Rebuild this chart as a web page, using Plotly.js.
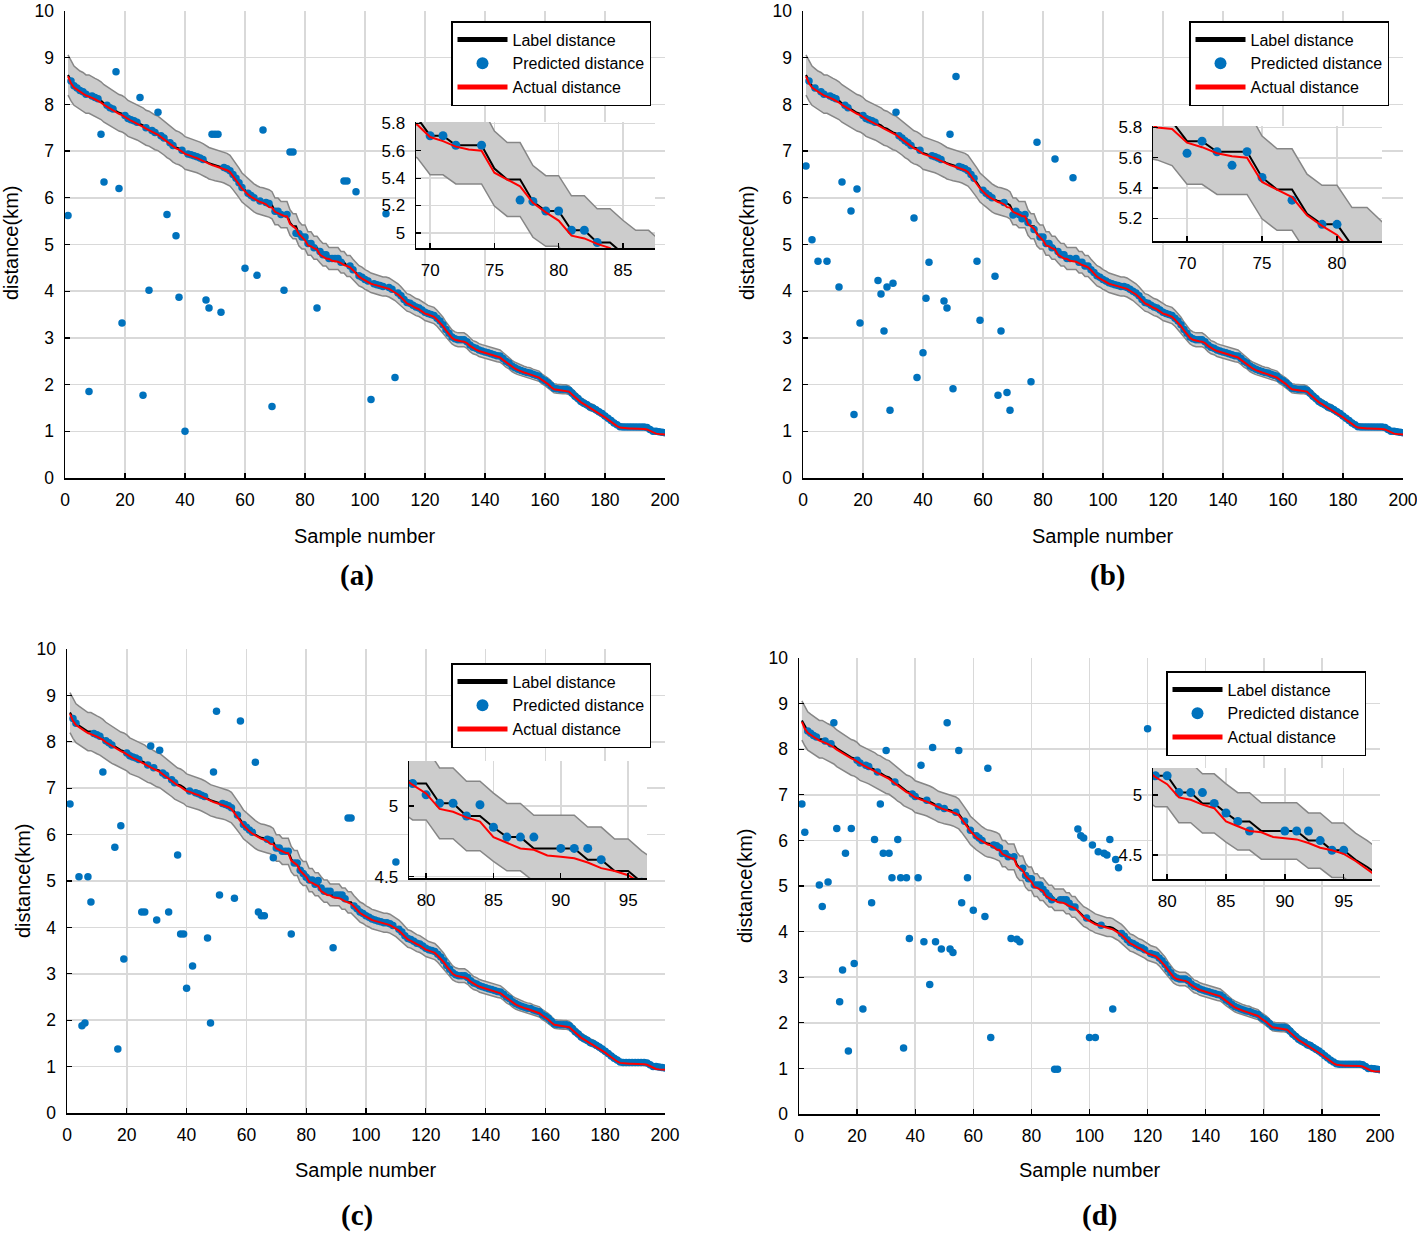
<!DOCTYPE html>
<html>
<head>
<meta charset="utf-8">
<script src="https://cdn.plot.ly/plotly-3.0.1.min.js"></script>
<style>
  html, body { margin: 0; padding: 0; background: #fff; }
  #chart { width: 1417px; height: 1235px; }
</style>
</head>
<body>
<div id="chart"></div>
<script>
// sample numbers of the 200 test points
const sampleNo = Array.from({ length: 200 }, (_, i) => i + 1);

// label distance (km), sorted test set, shared by all four panels
const labelDist = [
  8.63, 8.50, 8.40, 8.35, 8.30, 8.27, 8.22, 8.22, 8.18, 8.15,
  8.12, 8.08, 8.02, 7.98, 7.93, 7.90, 7.86, 7.82, 7.80, 7.76,
  7.70, 7.67, 7.65, 7.62, 7.58, 7.55, 7.50, 7.48, 7.44, 7.40,
  7.38, 7.33, 7.28, 7.22, 7.18, 7.12, 7.08, 7.06, 7.02, 6.96,
  6.94, 6.92, 6.90, 6.88, 6.85, 6.82, 6.78, 6.74, 6.72, 6.70,
  6.68, 6.67, 6.65, 6.62, 6.58, 6.50, 6.42, 6.32, 6.22, 6.16,
  6.10, 6.05, 6.00, 5.96, 5.93, 5.92, 5.90, 5.88, 5.84, 5.71,
  5.71, 5.64, 5.64, 5.64, 5.47, 5.39, 5.39, 5.23, 5.16, 5.16,
  5.02, 5.02, 4.93, 4.93, 4.85, 4.78, 4.78, 4.70, 4.70, 4.70,
  4.70, 4.62, 4.62, 4.54, 4.54, 4.46, 4.40, 4.33, 4.30, 4.25,
  4.22, 4.18, 4.16, 4.14, 4.12, 4.10, 4.10, 4.08, 4.04, 4.00,
  3.96, 3.90, 3.82, 3.76, 3.74, 3.70, 3.66, 3.64, 3.60, 3.55,
  3.52, 3.50, 3.48, 3.42, 3.36, 3.28, 3.18, 3.10, 3.02, 2.98,
  2.96, 2.96, 2.96, 2.92, 2.85, 2.80, 2.78, 2.74, 2.72, 2.70,
  2.68, 2.66, 2.64, 2.62, 2.61, 2.56, 2.50, 2.46, 2.40, 2.36,
  2.33, 2.30, 2.28, 2.26, 2.25, 2.22, 2.20, 2.18, 2.12, 2.08,
  2.04, 1.98, 1.92, 1.91, 1.90, 1.90, 1.90, 1.88, 1.82, 1.75,
  1.70, 1.64, 1.60, 1.57, 1.52, 1.50, 1.46, 1.42, 1.38, 1.33,
  1.28, 1.23, 1.18, 1.14, 1.10, 1.09, 1.09, 1.09, 1.09, 1.09,
  1.09, 1.09, 1.09, 1.08, 1.04, 1.00, 1.00, 0.99, 0.98, 0.97
];

// actual distance (km)
const actualDist = [
  8.60, 8.45, 8.36, 8.31, 8.26, 8.23, 8.19, 8.17, 8.14, 8.11,
  8.08, 8.04, 7.99, 7.95, 7.91, 7.87, 7.83, 7.80, 7.77, 7.73,
  7.68, 7.65, 7.62, 7.59, 7.56, 7.52, 7.48, 7.45, 7.41, 7.38,
  7.35, 7.30, 7.25, 7.20, 7.15, 7.10, 7.06, 7.03, 6.99, 6.94,
  6.92, 6.89, 6.87, 6.85, 6.82, 6.79, 6.75, 6.72, 6.70, 6.68,
  6.66, 6.64, 6.62, 6.59, 6.55, 6.47, 6.39, 6.29, 6.20, 6.13,
  6.07, 6.02, 5.98, 5.94, 5.91, 5.89, 5.86, 5.80, 5.79, 5.70,
  5.67, 5.63, 5.61, 5.60, 5.44, 5.39, 5.34, 5.22, 5.15, 5.09,
  4.98, 4.96, 4.92, 4.89, 4.78, 4.74, 4.70, 4.69, 4.65, 4.64,
  4.63, 4.60, 4.56, 4.54, 4.51, 4.45, 4.38, 4.31, 4.27, 4.23,
  4.20, 4.16, 4.14, 4.12, 4.10, 4.08, 4.07, 4.05, 4.01, 3.97,
  3.93, 3.87, 3.80, 3.74, 3.71, 3.67, 3.64, 3.61, 3.57, 3.52,
  3.50, 3.48, 3.45, 3.39, 3.33, 3.25, 3.16, 3.08, 3.00, 2.96,
  2.94, 2.93, 2.92, 2.89, 2.83, 2.78, 2.75, 2.72, 2.70, 2.68,
  2.66, 2.64, 2.62, 2.60, 2.58, 2.53, 2.48, 2.43, 2.38, 2.34,
  2.31, 2.28, 2.26, 2.24, 2.22, 2.20, 2.18, 2.15, 2.10, 2.06,
  2.01, 1.95, 1.90, 1.89, 1.88, 1.87, 1.87, 1.85, 1.79, 1.73,
  1.67, 1.62, 1.58, 1.54, 1.50, 1.47, 1.43, 1.39, 1.35, 1.30,
  1.25, 1.20, 1.15, 1.11, 1.08, 1.07, 1.07, 1.06, 1.06, 1.06,
  1.06, 1.05, 1.05, 1.04, 1.01, 0.97, 0.95, 0.94, 0.93, 0.93
];

// relative tolerance of the grey band around the label distance
const tolerance = 0.05;

// predicted distance: samples where the prediction differs from the label
const predA_x = [1, 8, 12, 13, 17, 18, 19, 25, 26, 28, 31, 34, 37, 38, 40, 47, 48, 49, 50, 51, 52, 60, 64, 66, 69, 73, 75, 76, 77, 84, 93, 94, 97, 102, 107, 110];
const predA_y = [5.62, 1.85, 7.36, 6.34, 8.70, 6.20, 3.32, 8.15, 1.77, 4.02, 7.83, 5.64, 5.19, 3.87, 1.00, 3.81, 3.64, 7.36, 7.36, 7.36, 3.55, 4.49, 4.34, 7.45, 1.53, 4.02, 6.98, 6.98, 5.24, 3.64, 6.36, 6.36, 6.13, 1.68, 5.66, 2.15];

const predB_x = [1, 3, 5, 8, 12, 13, 16, 17, 18, 19, 25, 26, 27, 28, 29, 30, 31, 37, 38, 40, 41, 42, 47, 48, 49, 50, 51, 58, 59, 64, 65, 66, 68, 69, 70, 73, 76, 77, 78, 84, 90];
const predB_y = [6.68, 5.10, 4.64, 4.64, 4.09, 6.34, 5.72, 1.36, 6.19, 3.32, 4.23, 3.94, 3.15, 4.09, 1.45, 4.17, 7.83, 5.57, 2.15, 2.68, 3.85, 4.62, 3.79, 3.64, 7.36, 1.91, 8.60, 4.64, 3.38, 4.32, 1.77, 3.15, 1.83, 1.45, 5.63, 5.55, 2.06, 5.32, 7.19, 6.83, 6.43];

const predC_x = [1, 4, 5, 6, 7, 8, 12, 16, 17, 18, 19, 25, 26, 28, 30, 31, 34, 37, 38, 39, 40, 42, 47, 48, 49, 50, 51, 56, 58, 63, 64, 65, 66, 69, 75, 80, 84, 88, 89, 92, 94, 95, 110];
const predC_y = [6.66, 5.09, 1.88, 1.94, 5.09, 4.55, 7.35, 5.73, 1.38, 6.19, 3.32, 4.33, 4.33, 7.91, 4.16, 7.82, 4.33, 5.56, 3.86, 3.86, 2.69, 3.17, 3.77, 1.94, 7.35, 8.66, 4.70, 4.63, 8.45, 7.56, 4.33, 4.25, 4.25, 5.50, 3.86, 5.08, 5.01, 4.78, 3.56, 4.70, 6.36, 6.36, 5.41];

const predD_x = [1, 2, 7, 8, 10, 12, 13, 14, 15, 16, 17, 18, 19, 22, 25, 26, 28, 29, 30, 31, 32, 34, 35, 36, 37, 38, 41, 42, 43, 45, 46, 47, 49, 51, 52, 53, 55, 56, 58, 60, 64, 65, 66, 73, 75, 76, 83, 87, 88, 89, 92, 96, 97, 98, 100, 101, 102, 103, 105, 106, 107, 108, 109, 110, 120];
const predD_y = [6.80, 6.18, 5.02, 4.55, 5.09, 8.58, 6.26, 2.46, 3.16, 5.72, 1.38, 6.26, 3.30, 2.30, 4.63, 6.02, 6.80, 5.72, 7.97, 5.72, 5.18, 6.02, 5.18, 1.45, 5.18, 3.85, 5.18, 7.65, 3.78, 2.84, 8.04, 3.78, 3.62, 8.58, 3.62, 3.54, 7.97, 4.63, 5.18, 4.47, 4.33, 7.58, 1.68, 3.85, 3.83, 3.78, 5.02, 4.70, 0.98, 0.98, 4.70, 6.25, 6.10, 6.05, 1.68, 5.90, 1.68, 5.75, 5.72, 5.68, 6.02, 2.30, 5.58, 5.40, 8.45];

const seriesNames = ['Label distance', 'Predicted distance', 'Actual distance'];

// ---- layout helpers (pixel boxes of the reference) ----
const W = 1417, H = 1235;
const fx = p => p / W;
const fy = p => 1 - p / H;

const panels = [
  { tag: '(a)', main: [65, 665, 11, 478], inset: [416, 655, 122, 248], ix: [68.9, 87.5], iy: [4.89, 5.81], idy: 0.2,
    legend: [651, 21], yt: [11, 243], xt: [365, 536], tg: [357, 575], px: predA_x, py: predA_y },
  { tag: '(b)', main: [803, 1403, 11, 478], inset: [1153, 1382, 126, 241], ix: [67.73, 83.0], iy: [5.05, 5.81], idy: 0.2,
    legend: [1389, 21], yt: [747, 243], xt: [1103, 536], tg: [1107, 575], px: predB_x, py: predB_y },
  { tag: '(c)', main: [67, 665, 649, 1113], inset: [409, 647, 761, 878], ix: [78.73, 96.4], iy: [4.49, 5.32], idy: 0.5,
    legend: [651, 663], yt: [23, 881], xt: [366, 1170], tg: [357, 1215], px: predC_x, py: predC_y },
  { tag: '(d)', main: [799, 1380, 658, 1114], inset: [1153, 1372, 768, 879], ix: [78.8, 97.4], iy: [4.3, 5.225], idy: 0.5,
    legend: [1366, 671], yt: [745, 886], xt: [1090, 1170], tg: [1099, 1215], px: predD_x, py: predD_y }
];

const FONT = 'Liberation Sans, Arial, sans-serif';
const BLUE = '#0072BD';

function predicted(xs, ys) {
  const off = new Map(xs.map((s, i) => [s, ys[i]]));
  return { x: sampleNo.slice(), y: sampleNo.map((s, i) => off.has(s) ? off.get(s) : labelDist[i]) };
}

const upper = labelDist.map(v => v * (1 + tolerance));
const lower = labelDist.map(v => v * (1 - tolerance));
const bandX = sampleNo.concat(sampleNo.slice().reverse());
const bandY = upper.concat(lower.slice().reverse());

function axisBase(extra) {
  return Object.assign({
    showline: true, linecolor: '#000', linewidth: 1.5,
    ticks: 'inside', ticklen: 5, tickwidth: 1.3, tickcolor: '#000',
    showgrid: true, gridcolor: '#d9d9d9', gridwidth: 1.5,
    zeroline: false, fixedrange: true, ticklabeloverflow: 'allow',
    tickfont: { family: FONT, size: 17.5, color: '#000' }
  }, extra);
}

const traces = [];
const layout = {
  width: W, height: H,
  margin: { l: 0, r: 0, t: 0, b: 0 },
  paper_bgcolor: '#fff', plot_bgcolor: '#fff',
  showlegend: true,
  annotations: []
};

panels.forEach((p, k) => {
  const n = k + 1, m = k + 5;
  const mx = n === 1 ? 'x' : 'x' + n, my = n === 1 ? 'y' : 'y' + n;
  const ixa = 'x' + m, iya = 'y' + m;
  const legId = n === 1 ? 'legend' : 'legend' + n;
  const pred = predicted(p.px, p.py);

  [[mx, my, 7.5, true], [ixa, iya, 9, false]].forEach(([xa, ya, ms, leg]) => {
    traces.push({ x: bandX, y: bandY, xaxis: xa, yaxis: ya, mode: 'lines', fill: 'toself',
      fillcolor: '#cccccc', line: { color: '#868686', width: 1.5 }, showlegend: false, hoverinfo: 'skip' });
    traces.push({ x: sampleNo, y: labelDist, xaxis: xa, yaxis: ya, mode: 'lines', name: seriesNames[0],
      line: { color: '#000', width: 2 }, showlegend: leg, legend: legId });
    traces.push({ x: pred.x, y: pred.y, xaxis: xa, yaxis: ya, mode: 'markers', name: seriesNames[1],
      marker: { color: BLUE, size: ms }, showlegend: leg, legend: legId });
    traces.push({ x: sampleNo, y: actualDist, xaxis: xa, yaxis: ya, mode: 'lines', name: seriesNames[2],
      line: { color: '#ff0000', width: 2 }, showlegend: leg, legend: legId });
  });

  const [x0, x1, y0, y1] = p.main;
  layout[n === 1 ? 'xaxis' : 'xaxis' + n] = axisBase({ domain: [fx(x0), fx(x1)], anchor: my, range: [0, 200], tick0: 0, dtick: 20, ticklabelstandoff: 5 });
  layout[n === 1 ? 'yaxis' : 'yaxis' + n] = axisBase({ domain: [fy(y1), fy(y0)], anchor: mx, range: [0, 10], tick0: 0, dtick: 1, ticklabelstandoff: 6 });

  const [i0, i1, j0, j1] = p.inset;
  layout['xaxis' + m] = axisBase({ domain: [fx(i0), fx(i1)], anchor: iya, range: p.ix, tick0: 0, dtick: 5, ticklabelstandoff: 6,
    tickfont: { family: FONT, size: 17, color: '#000' } });
  layout['yaxis' + m] = axisBase({ domain: [fy(j1), fy(j0)], anchor: ixa, range: p.iy, tick0: 0, dtick: p.idy, ticklabelstandoff: 6,
    tickfont: { family: FONT, size: 17, color: '#000' } });

  layout[legId] = {
    x: fx(p.legend[0]), y: fy(p.legend[1]), xanchor: 'right', yanchor: 'top',
    bgcolor: '#fff', bordercolor: '#000', borderwidth: 1.5,
    font: { family: FONT, size: 16, color: '#000' },
    itemsizing: 'constant', itemwidth: 50, tracegroupgap: 0
  };

  layout.annotations.push(
    { text: 'distance(km)', x: fx(p.yt[0]), y: fy(p.yt[1]), xref: 'paper', yref: 'paper', textangle: -90,
      showarrow: false, xanchor: 'center', yanchor: 'middle', font: { family: FONT, size: 20, color: '#000' } },
    { text: 'Sample number', x: fx(p.xt[0]), y: fy(p.xt[1]), xref: 'paper', yref: 'paper',
      showarrow: false, xanchor: 'center', yanchor: 'middle', font: { family: FONT, size: 20, color: '#000' } },
    { text: '<b>' + p.tag + '</b>', x: fx(p.tg[0]), y: fy(p.tg[1]), xref: 'paper', yref: 'paper',
      showarrow: false, xanchor: 'center', yanchor: 'middle', font: { family: 'Liberation Serif, serif', size: 29, color: '#000' } }
  );
});

Plotly.newPlot('chart', traces, layout, { staticPlot: true, displayModeBar: false });
</script>
</body>
</html>
